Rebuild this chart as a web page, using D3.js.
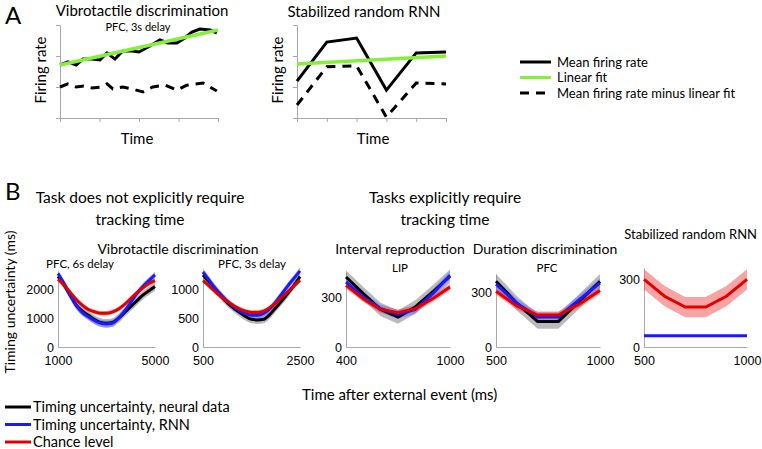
<!DOCTYPE html>
<html><head><meta charset="utf-8">
<script src="https://cdn.jsdelivr.net/npm/d3@7"></script>
<style>body{margin:0;background:#fff}svg{display:block}</style>
</head><body>
<svg id="c" width="762" height="449"></svg>
<script>
// ---------- Panel A data ----------
const aLeftSolidT = [0,0.2,0.41,0.58,0.81,1.01,1.19,1.39,1.59,1.82,2.0,2.23,2.53,2.73,2.96,3.16,3.34,3.54,3.8,3.97];
const aLeftSolidV = [1.71,1.81,1.71,1.90,1.90,1.87,2.10,1.90,2.16,2.16,2.13,2.29,2.52,2.42,2.42,2.58,2.77,2.87,2.84,2.74];
const aLeftFitT = [0,4];
const aLeftFitV = [1.71,2.84];
const aLeftResT = [0,0.2,0.41,0.6,0.81,1.05,1.19,1.34,1.59,1.82,2.1,2.35,2.66,2.96,3.21,3.62,3.97];
const aLeftResV = [1.0,1.10,1.0,1.03,0.97,1.0,1.10,0.94,1.0,0.94,0.84,1.0,1.06,0.90,1.06,1.13,0.87];
const aRightT = [0,1,2,3,4,5];
const aRightSolidV = [1.19,2.45,2.58,0.90,2.10,2.13];
const aRightFitT = [0,5];
const aRightFitV = [1.74,2.0];
const aRightResV = [0.42,1.65,1.68,0.03,1.13,1.10];
const aLegend = ["Mean firing rate","Linear fit","Mean firing rate minus linear fit"];

// ---------- Panel B data ----------
const b1Time = [1000,1250,1500,1750,2000,2250,2500,2750,3000,3250,3500,3750,4000,4250,4500,4750,5000];
const b1Neural = [2450,2150,1800,1450,1250,1100,950,850,820,850,1000,1200,1400,1600,1800,1950,2100];
const b1Rnn    = [2550,2200,1800,1450,1200,1050,920,830,800,830,1000,1250,1550,1850,2100,2300,2500];
const b1Chance = [2350,2150,1900,1650,1450,1300,1220,1170,1170,1220,1320,1480,1680,1880,2050,2200,2300];
const b1Err = [150,120,80];
const b2Time = [500,625,750,875,1000,1125,1250,1375,1500,1625,1750,1875,2000,2125,2250,2375,2500];
const b2Neural = [1250,1130,1000,880,770,680,600,530,480,470,480,560,680,800,930,1070,1220];
const b2Rnn    = [1300,1160,1020,900,790,700,630,580,550,550,580,660,780,920,1060,1190,1320];
const b2Chance = [1150,1060,960,870,790,720,660,620,600,600,620,680,760,860,960,1060,1160];
const b2Err = [70,60,40];
const b3Time = [400,500,600,700,800,900,1000];
const b3Neural = [420,320,225,180,240,330,425];
const b3Rnn    = [390,300,230,195,225,320,430];
const b3Chance = [370,290,225,205,230,290,360];
const b3Err = [40,25,20];
const b4Time = [500,600,700,800,900,1000];
const b4Neural = [360,240,140,140,250,360];
const b4Rnn    = [345,240,165,165,260,350];
const b4Chance = [305,225,175,175,235,310];
const b4Err = [40,25,20];
const b5Time = [500,600,700,800,900,1000];
const b5Chance = [300,225,177,177,225,300];
const b5Rnn = [50,50,50,50,50,50];
const b5Err = [0,0,45];
const bLegend = ["Timing uncertainty, neural data","Timing uncertainty, RNN","Chance level"];

const svg = d3.select("#c");
const TF = "Lato, 'Open Sans', sans-serif";
const NF = "'Liberation Sans', Arial, sans-serif";
const GREEN = "#84f03c";
const AX = "#a8a8a8";

function text(x,y,s,size,anchor,rot,fam){
  const t = svg.append("text").attr("x",x).attr("y",y).text(s)
    .attr("font-size",size).attr("font-family",fam||TF).attr("fill","#000")
    .attr("text-anchor",anchor||"middle");
  if(rot) t.attr("transform",`rotate(${rot},${x},${y})`);
  return t;
}

// ---------- Panel A ----------
function plotA(o){
  const x = d3.scaleLinear().domain(o.xd).range(o.xr);
  const y = d3.scaleLinear().domain([0,3]).range([118,25]);
  const g = svg.append("g");
  const ya = g.append("g").attr("transform",`translate(${o.xr[0]},0)`)
    .call(d3.axisLeft(y).tickValues([0,1,2,3]).tickSize(4).tickSizeOuter(0).tickFormat(""));
  const xa = g.append("g").attr("transform",`translate(0,118)`)
    .call(d3.axisBottom(x).ticks(o.xd[1]).tickSize(4).tickSizeOuter(0).tickFormat(""));
  [ya,xa].forEach(a=>{a.selectAll("path,line").attr("stroke",AX).attr("stroke-width",1);});
  const line = d3.line().x(d=>x(d[0])).y(d=>y(d[1]));
  g.append("path").datum(d3.zip(o.solidT,o.solidV)).attr("d",line)
    .attr("fill","none").attr("stroke","#000").attr("stroke-width",3);
  g.append("path").datum(d3.zip(o.resT,o.resV)).attr("d",line)
    .attr("fill","none").attr("stroke","#000").attr("stroke-width",3).attr("stroke-dasharray","9,7");
  g.append("path").datum(d3.zip(o.fitT,o.fitV)).attr("d",line)
    .attr("fill","none").attr("stroke",GREEN).attr("stroke-width",3.5);
}
plotA({xd:[0,4],xr:[60,218],solidT:aLeftSolidT,solidV:aLeftSolidV,fitT:aLeftFitT,fitV:aLeftFitV,resT:aLeftResT,resV:aLeftResV});
plotA({xd:[0,5],xr:[297,446],solidT:aRightT,solidV:aRightSolidV,fitT:aRightFitT,fitV:aRightFitV,resT:aRightT,resV:aRightResV});

text(5,24,"A",24,"start");
text(142,16,"Vibrotactile discrimination",15);
text(138,31,"PFC, 3s delay",11);
text(364,17,"Stabilized random RNN",15);
text(46,70,"Firing rate",15,"middle",-90);
text(283,70,"Firing rate",15,"middle",-90);
text(137,144,"Time",15);
text(373,144,"Time",15);

// legend A
aLegend.forEach((s,i)=>{
  const yy = 62 + i*15.5;
  const l = svg.append("line").attr("x1",520).attr("x2",551).attr("y1",yy).attr("y2",yy)
    .attr("stroke",i===1?GREEN:"#000").attr("stroke-width",3);
  if(i===2) l.attr("stroke-dasharray","9,7");
  text(557,yy+4.5,s,13,"start");
});

// ---------- Panel B ----------
const SERIES = [
  {band:"#8c8c8c",bandOp:0.6,line:"#000"},
  {band:"#7a7aff",bandOp:0.6,line:"#1a1aff"},
  {band:"#f05a5a",bandOp:0.55,line:"#e00000"}
];
function plotB(o){
  const x = d3.scaleLinear().domain([o.time[0],o.time[o.time.length-1]]).range(o.xr);
  const y = d3.scaleLinear().domain([0,o.ymax]).range([347,o.ytop]);
  const g = svg.append("g");
  const ya = g.append("g").attr("transform",`translate(${o.xr[0]},0)`)
    .call(d3.axisLeft(y).tickValues(o.yticks).tickSize(0).tickSizeOuter(0).tickPadding(4).tickFormat(d3.format("d")));
  const xa = g.append("g").attr("transform",`translate(0,347)`)
    .call(d3.axisBottom(x).tickValues(x.domain()).tickSize(0).tickSizeOuter(0).tickPadding(9).tickFormat(d3.format("d")));
  [ya,xa].forEach(a=>{
    a.select(".domain").attr("stroke",AX).attr("stroke-width",1);
    a.selectAll("text").attr("font-family",NF).attr("font-size",12.5).attr("fill","#000");
  });
  const curve = o.curve || d3.curveLinear;
  o.series.forEach((s,i)=>{
    if(!s || o.err[i]===0) return;
    const e = o.err[i];
    const area = d3.area().curve(curve).x((d,j)=>x(o.time[j])).y0(d=>y(d-e)).y1(d=>y(d+e));
    g.append("path").datum(s).attr("d",area).attr("fill",SERIES[i].band).attr("opacity",SERIES[i].bandOp);
  });
  o.series.forEach((s,i)=>{
    if(!s) return;
    const line = d3.line().curve(curve).x((d,j)=>x(o.time[j])).y(d=>y(d));
    g.append("path").datum(s).attr("d",line).attr("fill","none")
      .attr("stroke",SERIES[i].line).attr("stroke-width",3);
  });
}
plotB({time:b1Time,series:[b1Neural,b1Rnn,b1Chance],err:b1Err,xr:[58,155],ymax:2600,ytop:272,yticks:[0,1000,2000],curve:d3.curveMonotoneX});
plotB({time:b2Time,series:[b2Neural,b2Rnn,b2Chance],err:b2Err,xr:[203,300],ymax:1300,ytop:272,yticks:[0,500,1000],curve:d3.curveMonotoneX});
plotB({time:b3Time,series:[b3Neural,b3Rnn,b3Chance],err:b3Err,xr:[346,450],ymax:450,ytop:272,yticks:[0,300]});
plotB({time:b4Time,series:[b4Neural,b4Rnn,b4Chance],err:b4Err,xr:[496,600],ymax:400,ytop:274,yticks:[0,300]});
plotB({time:b5Time,series:[null,b5Rnn,b5Chance],err:b5Err,xr:[644,747],ymax:350,ytop:268,yticks:[0,300]});

text(5,200,"B",24,"start");
text(140,203,"Task does not explicitly require",15.5);
text(140,225,"tracking time",15.5);
text(445,203,"Tasks explicitly require",15.5);
text(445,225,"tracking time",15.5);
text(178,254,"Vibrotactile discrimination",14);
text(80,268,"PFC, 6s delay",11.5);
text(252,268,"PFC, 3s delay",11.5);
text(400,254,"Interval reproduction",14);
text(400,272,"LIP",11.5);
text(545,254,"Duration discrimination",14);
text(547,272,"PFC",11.5);
text(757,239,"Stabilized random RNN",13,"end");
text(15,302,"Timing uncertainty (ms)",14,"middle",-90);
text(302,400,"Time after external event (ms)",15,"start");

bLegend.forEach((s,i)=>{
  const yy = 407 + i*17.5;
  svg.append("line").attr("x1",5).attr("x2",31).attr("y1",yy).attr("y2",yy)
    .attr("stroke",SERIES[i].line).attr("stroke-width",3);
  text(33,yy+5,s,14.5,"start");
});
</script>
</body></html>
